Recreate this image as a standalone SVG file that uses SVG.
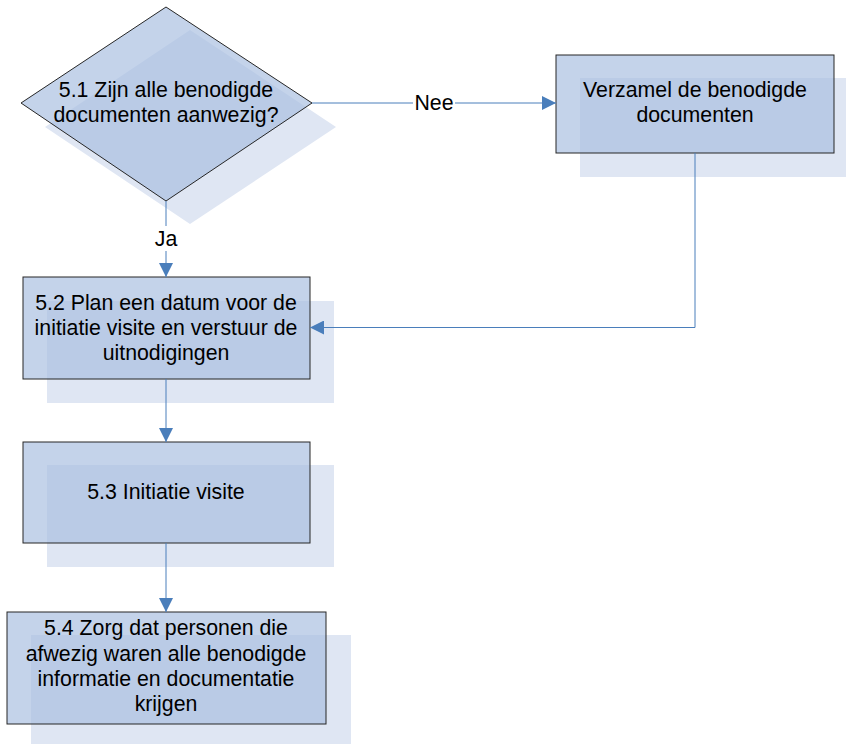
<svg xmlns="http://www.w3.org/2000/svg" width="846" height="744" viewBox="0 0 846 744">
<defs>
<style>
.sh{fill:#dfe6f3;stroke:none}
.nd{fill:#a9bfe1;fill-opacity:0.69;stroke:#262626;stroke-width:1}
.t{font-family:"Liberation Sans",Arial,sans-serif;font-size:21.3px;fill:#000;text-anchor:middle}
.c{fill:none;stroke:#4a7ebb;stroke-width:1}
.lb{font-family:"Liberation Sans",Arial,sans-serif;font-size:21.3px;fill:#000;text-anchor:middle}
</style>
<marker id="ah" markerWidth="14" markerHeight="14" refX="14" refY="7" orient="auto" markerUnits="userSpaceOnUse">
<path d="M0,0 L14,7 L0,14 Z" fill="#4a7ebb"/>
</marker>
</defs>
<rect width="846" height="744" fill="#fff"/>
<g id="n51">
<polygon class="sh" points="190,30 336,127 190,224 45,127"/>
<polygon class="nd" points="166,7 312,103 166,201 21,103"/>
<text class="t" x="166" y="97">5.1 Zijn alle benodigde</text>
<text class="t" x="166" y="122">documenten aanwezig?</text>
</g>
<g id="verzamel">
<rect class="sh" x="580" y="78" width="266" height="99"/>
<rect class="nd" x="556" y="55" width="278" height="98"/>
<text class="t" x="695" y="97">Verzamel de benodigde</text>
<text class="t" x="695" y="122">documenten</text>
</g>
<g id="n52">
<rect class="sh" x="47" y="301" width="287" height="102"/>
<rect class="nd" x="23" y="277" width="287" height="102"/>
<text class="t" x="166" y="310">5.2 Plan een datum voor de</text>
<text class="t" x="166" y="335">initiatie visite en verstuur de</text>
<text class="t" x="166" y="360">uitnodigingen</text>
</g>
<g id="n53">
<rect class="sh" x="47" y="465" width="287" height="102"/>
<rect class="nd" x="23" y="442" width="287" height="101"/>
<text class="t" x="166" y="499">5.3 Initiatie visite</text>
</g>
<g id="n54">
<rect class="sh" x="31" y="635" width="320" height="109"/>
<rect class="nd" x="7" y="612" width="319" height="112"/>
<text class="t" x="166" y="635">5.4 Zorg dat personen die</text>
<text class="t" x="166" y="661">afwezig waren alle benodigde</text>
<text class="t" x="166" y="686">informatie en documentatie</text>
<text class="t" x="166" y="711">krijgen</text>
</g>
<g id="connectors">
<path class="c" d="M312,103 H413 M455,103 H556" marker-end="url(#ah)"/>
<path class="c" d="M166,201 V226 M166,251 V277" marker-end="url(#ah)"/>
<path class="c" d="M695,153 V327.5 H310" marker-end="url(#ah)"/>
<path class="c" d="M166,379 V442" marker-end="url(#ah)"/>
<path class="c" d="M166,543 V612" marker-end="url(#ah)"/>
<text class="lb" x="434" y="110">Nee</text>
<text class="lb" x="166" y="246">Ja</text>
</g>
</svg>
